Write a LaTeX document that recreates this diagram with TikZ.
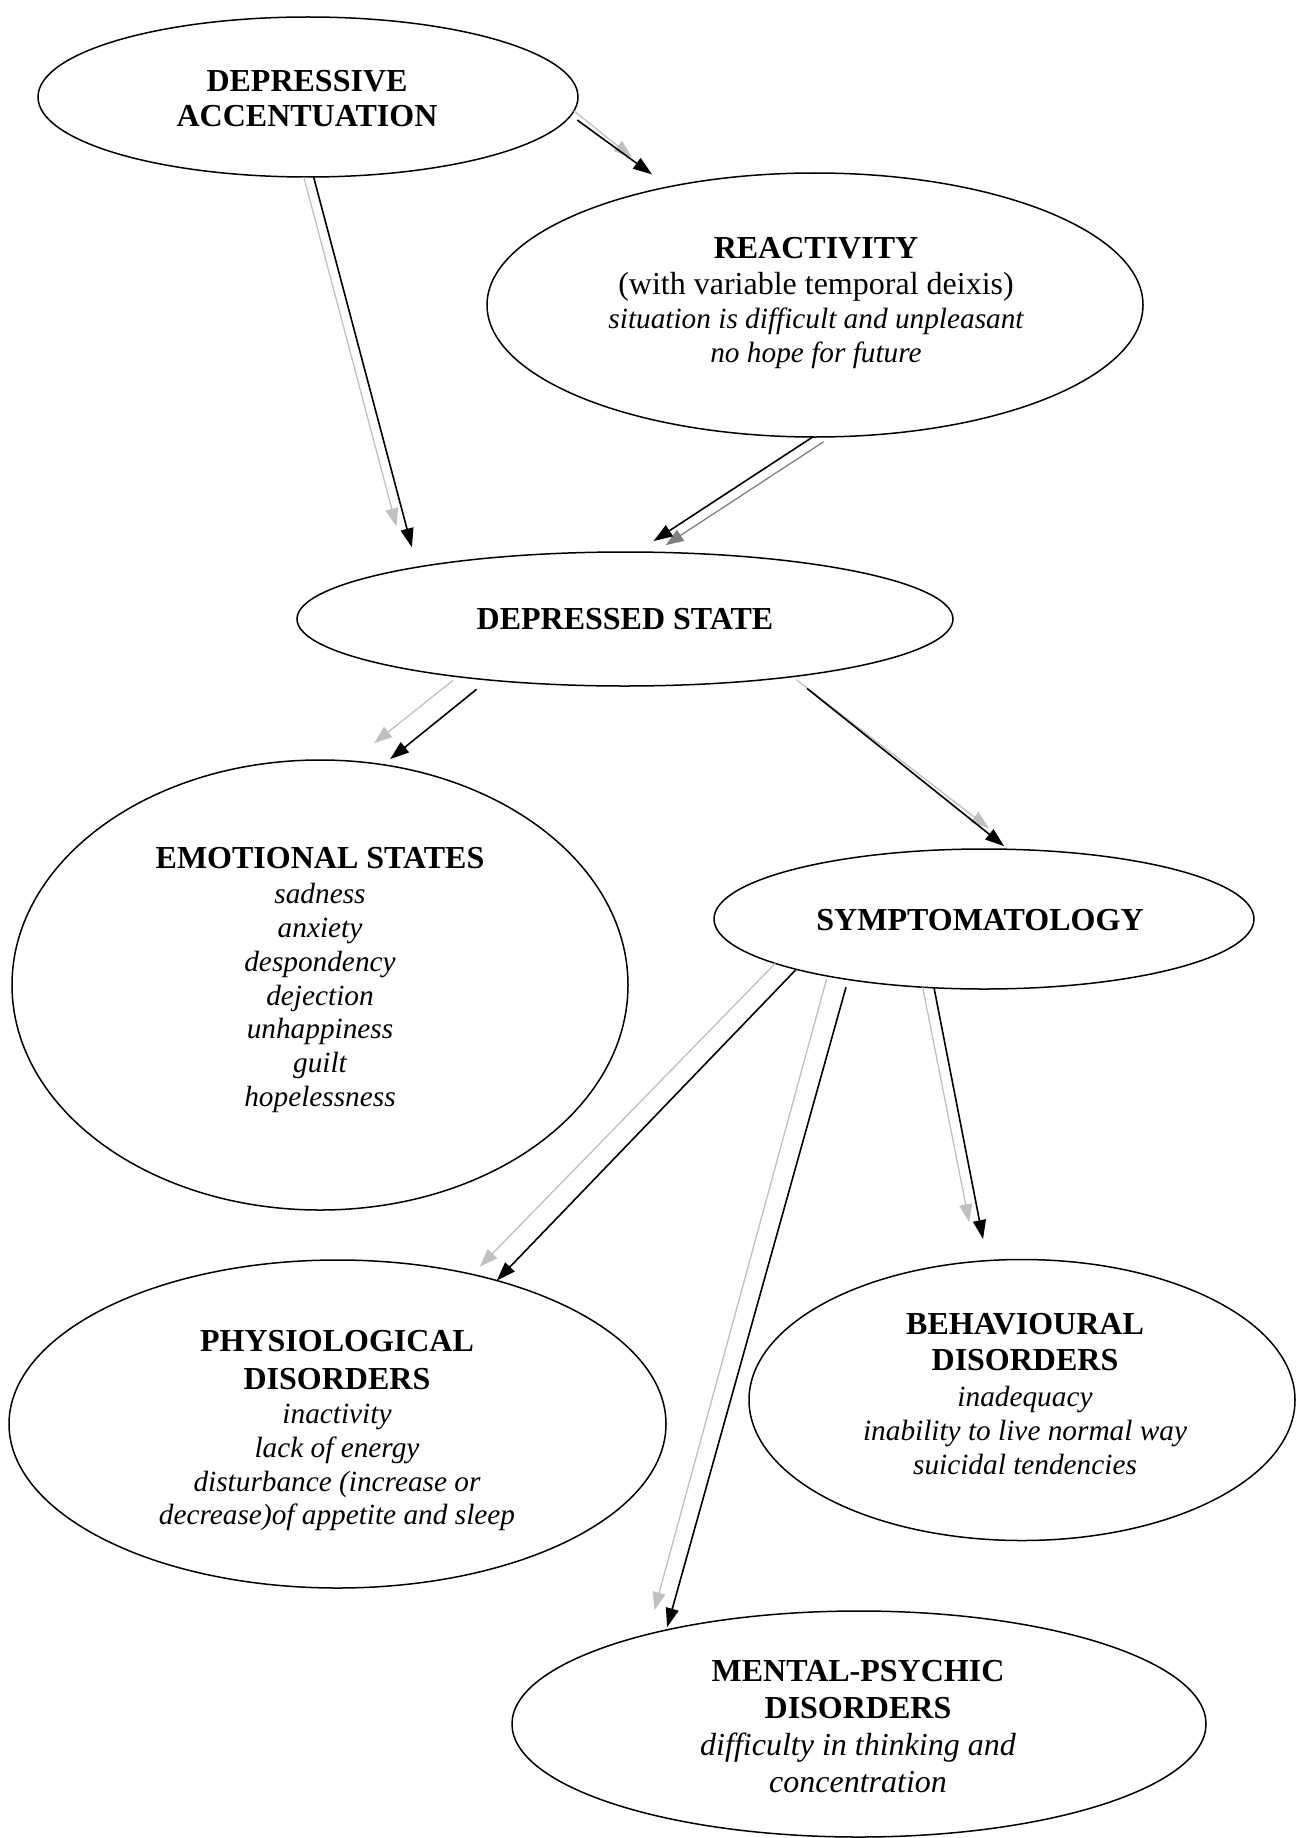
\documentclass[tikz,border=0pt]{standalone}
\usepackage{fontspec}
\setmainfont{Liberation Serif}
\usetikzlibrary{shapes.geometric,arrows.meta}
\definecolor{lgray}{RGB}{192,192,192}
\definecolor{mgray}{RGB}{128,128,128}
\newcommand\smit[1]{{\fontsize{29.3}{33.8}\selectfont\itshape #1}}
\tikzset{
  oval/.style={draw, ellipse, line width=1.5pt, inner sep=0pt, outer sep=0pt},
  lbl/.style={align=center, inner sep=0pt, font=\fontsize{32}{33.8}\selectfont},
  blk/.style={draw=black, line width=1.6pt, -{Triangle[length=19pt,width=13pt]}},
  gry/.style={draw=lgray, line width=1.3pt, -{Triangle[length=18pt,width=13pt]}},
  gryd/.style={gry, draw=mgray}
}
\begin{document}
\begin{tikzpicture}[x=1pt,y=-1pt]
\useasboundingbox (0,0) rectangle (1295,1838);
% ellipses
\node[oval, minimum width=540, minimum height=160] (da) at (308,97) {};
\node[oval, minimum width=656, minimum height=264] (react) at (815,305) {};
\node[oval, minimum width=656, minimum height=134] (ds) at (625,619) {};
\node[oval, minimum width=616, minimum height=450] (emo) at (320,985) {};
\node[oval, minimum width=540, minimum height=140] (symp) at (984,919) {};
\node[oval, minimum width=657, minimum height=328] (phys) at (337.5,1424) {};
\node[oval, minimum width=546, minimum height=281] (beh) at (1022,1400) {};
\node[oval, minimum width=694, minimum height=226] (mental) at (859,1724) {};
% texts
\node[lbl] (da-t) at (307,99) {\textbf{DEPRESSIVE}\\[1.2pt]\textbf{ACCENTUATION}};
\node[lbl] (react-t) at (816,303) {\textbf{REACTIVITY}\\[2.5pt](with variable temporal deixis)\\\smit{situation is difficult and unpleasant}\\\smit{no hope for future}};
\node[lbl] (ds-t) at (625,619) {\textbf{DEPRESSED STATE}};
\node[lbl] (emo-t) at (320,980) {\textbf{EMOTIONAL STATES}\\[1.4pt]\smit{sadness}\\\smit{anxiety}\\\smit{despondency}\\\smit{dejection}\\\smit{unhappiness}\\\smit{guilt}\\\smit{hopelessness}};
\node[lbl] (symp-t) at (980,920) {\textbf{SYMPTOMATOLOGY}};
\node[lbl] (phys-t) at (337,1431) {\textbf{PHYSIOLOGICAL}\\[3.7pt]\textbf{DISORDERS}\\[0.3pt]\smit{inactivity}\\\smit{lack of energy}\\\smit{disturbance (increase or}\\\smit{decrease)of appetite and sleep}};
\node[lbl] (beh-t) at (1025,1394) {\textbf{BEHAVIOURAL}\\[2.5pt]\textbf{DISORDERS}\\[2.5pt]\smit{inadequacy}\\\smit{inability to live normal way}\\\smit{suicidal tendencies}};
\node[lbl, font=\fontsize{32}{37}\selectfont] (mental-t) at (858,1727) {\textbf{MENTAL-PSYCHIC}\\\textbf{DISORDERS}\\\textit{difficulty in thinking and}\\\textit{concentration}};
% gray arrows
\draw[gry, shorten >=47.5pt] (da.-3.5) -- (react.141.4);
\draw[gry, shorten >=44pt] (da.-93.5) -- (ds.167.8);
\draw[gryd, shorten <=9pt, shorten >=13pt] (react.-83.1) -- (ds.66.6);
\draw[gry, shorten <=6pt, shorten >=29pt] (ds.-161.4) -- (emo.82.7);
\draw[gry, shorten <=5pt, shorten >=35pt] (ds.-19.5) -- (symp.65.9);
\draw[gry, shorten >=11pt] (symp.-168.5) -- (phys.48.5);
\draw[gry, shorten <=3pt, shorten >=25pt] (symp.-160.1) -- (mental.157.7);
\draw[gry, shorten >=40pt] (symp.-132.3) -- (beh.108.9);
% black arrows
\draw[blk, shorten <=8pt, shorten >=21pt] (da.-4.4) -- (react.141.9);
\draw[blk, shorten >=20.6pt] (da.-86.4) -- (ds.166.5);
\draw[blk, shorten >=20pt] (react.-91.6) -- (ds.80.4);
\draw[blk, shorten <=15pt, shorten >=9pt] (ds.-156.1) -- (emo.74.7);
\draw[blk, shorten <=19pt, shorten >=5pt] (ds.-19.9) -- (symp.71.7);
\draw[blk] (symp.-165.6) -- (phys.42.4);
\draw[blk, shorten <=8pt, shorten >=3pt] (symp.-156.4) -- (mental.154);
\draw[blk, shorten >=22pt] (symp.-126) -- (beh.104.4);
\end{tikzpicture}
\end{document}
